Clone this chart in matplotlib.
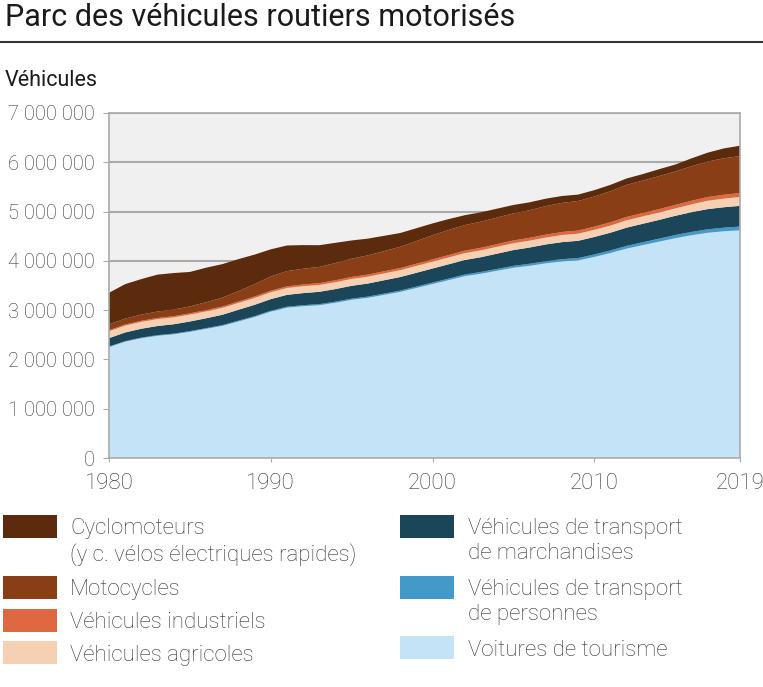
import numpy as np
import matplotlib
matplotlib.use('Agg')
import matplotlib.pyplot as plt
from matplotlib.patches import Rectangle
from matplotlib.ticker import FuncFormatter

plt.rcParams['font.family'] = ['Roboto', 'DejaVu Sans']

# Data (millions of vehicles)
years = list(range(1980, 2020))

cars = [2.25, 2.36, 2.43, 2.48, 2.51, 2.56, 2.62, 2.68, 2.77, 2.86,
        2.97, 3.05, 3.08, 3.10, 3.15, 3.21, 3.25, 3.31, 3.37, 3.45,
        3.53, 3.61, 3.69, 3.74, 3.80, 3.86, 3.90, 3.95, 3.99, 4.01,
        4.08, 4.16, 4.25, 4.32, 4.39, 4.46, 4.52, 4.57, 4.60, 4.62]
passenger = [0.012, 0.012, 0.013, 0.013, 0.014, 0.015, 0.015, 0.016, 0.017, 0.018,
             0.019, 0.020, 0.021, 0.022, 0.023, 0.024, 0.025, 0.026, 0.027, 0.028,
             0.030, 0.031, 0.033, 0.035, 0.037, 0.039, 0.041, 0.043, 0.045, 0.047,
             0.050, 0.052, 0.055, 0.058, 0.061, 0.064, 0.067, 0.070, 0.073, 0.076]
goods = [0.170, 0.175, 0.180, 0.185, 0.190, 0.195, 0.200, 0.210, 0.220, 0.230,
         0.235, 0.240, 0.245, 0.250, 0.255, 0.260, 0.265, 0.270, 0.275, 0.280,
         0.285, 0.290, 0.295, 0.300, 0.310, 0.320, 0.330, 0.340, 0.345, 0.350,
         0.355, 0.360, 0.370, 0.375, 0.380, 0.390, 0.400, 0.410, 0.415, 0.420]
agricultural = [0.14, 0.14, 0.14, 0.14, 0.14, 0.14, 0.14, 0.14, 0.14, 0.14,
                0.14, 0.14, 0.14, 0.14, 0.14, 0.14, 0.14, 0.14, 0.14, 0.14,
                0.14, 0.14, 0.14, 0.14, 0.14, 0.14, 0.14, 0.14, 0.145, 0.145,
                0.145, 0.145, 0.15, 0.15, 0.15, 0.15, 0.16, 0.17, 0.175, 0.18]
industrial = [0.020, 0.021, 0.022, 0.023, 0.024, 0.025, 0.026, 0.027, 0.028, 0.029,
              0.030, 0.032, 0.034, 0.036, 0.038, 0.040, 0.041, 0.042, 0.043, 0.044,
              0.045, 0.047, 0.049, 0.051, 0.053, 0.055, 0.057, 0.059, 0.061, 0.063,
              0.065, 0.066, 0.067, 0.068, 0.069, 0.070, 0.072, 0.075, 0.078, 0.080]
motorcycles = [0.12, 0.12, 0.125, 0.13, 0.135, 0.14, 0.16, 0.18, 0.21, 0.25,
               0.29, 0.31, 0.32, 0.33, 0.35, 0.37, 0.39, 0.41, 0.43, 0.46,
               0.49, 0.51, 0.52, 0.53, 0.54, 0.55, 0.56, 0.58, 0.59, 0.60,
               0.61, 0.63, 0.65, 0.66, 0.67, 0.68, 0.70, 0.72, 0.74, 0.75]
mopeds = [0.64, 0.70, 0.72, 0.75, 0.74, 0.70, 0.70, 0.68, 0.65, 0.60,
          0.55, 0.52, 0.48, 0.44, 0.41, 0.37, 0.34, 0.31, 0.28, 0.26,
          0.24, 0.22, 0.20, 0.19, 0.18, 0.17, 0.16, 0.15, 0.14, 0.13,
          0.13, 0.13, 0.13, 0.13, 0.14, 0.14, 0.16, 0.18, 0.20, 0.21]

layers = [cars, passenger, goods, agricultural, industrial, motorcycles, mopeds]
colors = ['#C5E3F7', '#4399C8', '#1B4559', '#F5D0B3', '#DE6840', '#8A3E16', '#5C2A0D']

labels_left = ['Cyclomoteurs\n(y c. vélos électriques rapides)', 'Motocycles',
               'Véhicules industriels', 'Véhicules agricoles']
colors_left = ['#5C2A0D', '#8A3E16', '#DE6840', '#F5D0B3']
labels_right = ['Véhicules de transport\nde marchandises', 'Véhicules de transport\nde personnes',
                'Voitures de tourisme']
colors_right = ['#1B4559', '#4399C8', '#C5E3F7']

W, H = 763, 687
fig = plt.figure(figsize=(W / 100, H / 100), dpi=100)
ax = fig.add_axes([109 / W, 1 - 458 / H, 631 / W, 345 / H])

vals = [np.array(l) * 1e6 for l in layers]
ax.stackplot(years, *vals, colors=colors, linewidth=0)

ax.set_facecolor('#F0F0F0')
ax.set_xlim(1980, 2019)
ax.set_ylim(0, 7e6)
ax.set_yticks(np.arange(0, 7.01e6, 1e6))
ax.set_xticks([1980, 1990, 2000, 2010, 2019])
ax.yaxis.set_major_formatter(FuncFormatter(lambda v, p: f"{v:,.0f}".replace(',', ' ')))
ax.grid(axis='y', color='#AAAAAA', linewidth=1.5)
ax.set_axisbelow(True)
for s in ax.spines.values():
    s.set_color('#AAAAAA')
    s.set_linewidth(1.2)
ax.tick_params(axis='y', length=4, color='#AAAAAA', pad=6, labelsize=14.5, labelcolor='#333333')
ax.tick_params(axis='x', length=3, color='#AAAAAA', pad=8, labelsize=16, labelcolor='#333333')
for t in ax.get_xticklabels() + ax.get_yticklabels():
    t.set_fontweight('light')

# title and rule
fig.text(5 / W, 1 - 18 / H, 'Parc des véhicules routiers motorisés', fontsize=22,
         va='center', ha='left', color='#1a1a1a')
fig.add_artist(plt.Line2D([0, 1], [1 - 42 / H, 1 - 42 / H], color='#333333', linewidth=1.5))
fig.text(5 / W, 1 - 80 / H, 'Véhicules', fontsize=15.5, va='center', ha='left', color='#1a1a1a')


def legend_item(x_patch, x_text, y_top, color, label):
    fig.add_artist(Rectangle((x_patch / W, 1 - (y_top + 23) / H), 54 / W, 23 / H,
                             transform=fig.transFigure, facecolor=color, edgecolor='none'))
    two = '\n' in label
    fig.text(x_text / W, 1 - (y_top + (3 if two else 14)) / H, label, fontsize=16,
             fontweight='light', va='top' if two else 'center', ha='left',
             color='#333333', linespacing=1.25)


for y, c, lab in zip([515, 576, 609, 641], colors_left, labels_left):
    legend_item(3, 70, y, c, lab)
for y, c, lab in zip([515, 576, 636], colors_right, labels_right):
    legend_item(400, 468, y, c, lab)

fig.savefig('out.png', dpi=100)
